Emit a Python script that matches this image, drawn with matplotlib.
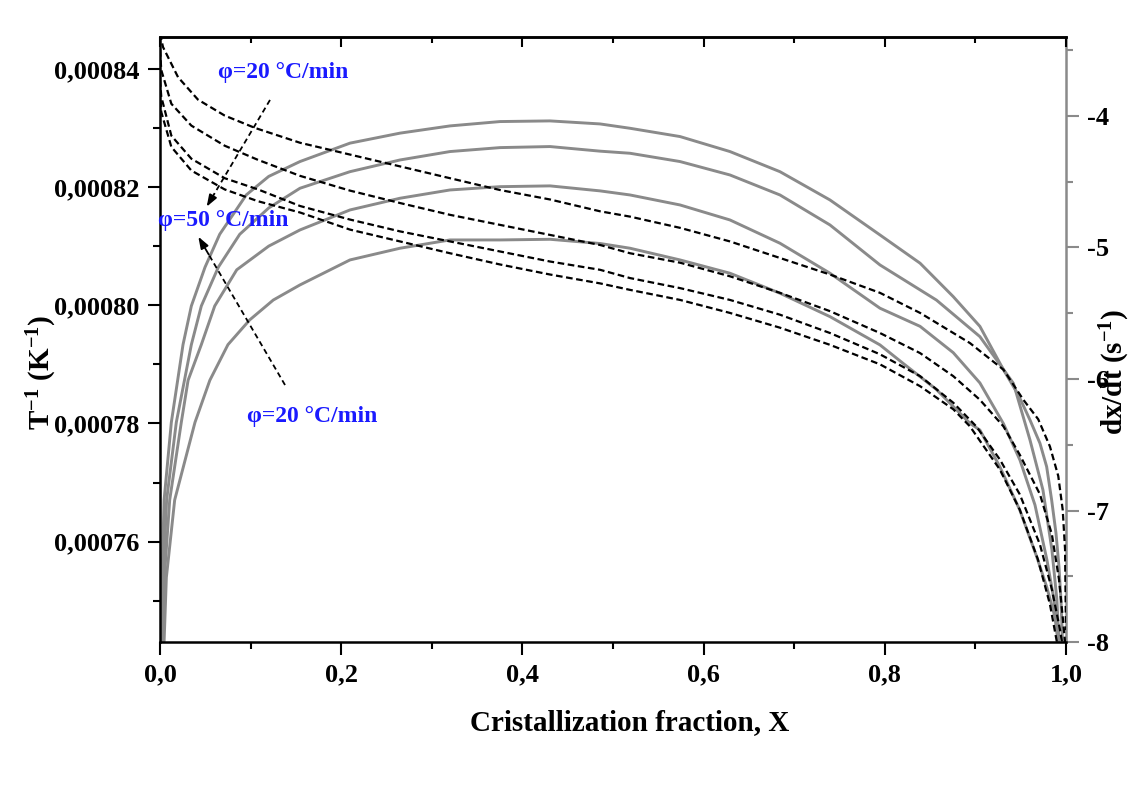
import matplotlib
matplotlib.use('Agg')
from matplotlib import pyplot as plt
from matplotlib.ticker import MultipleLocator, FuncFormatter

plt.rcParams['font.family'] = ['Liberation Serif', 'DejaVu Serif']
plt.rcParams['font.weight'] = 'bold'
plt.rcParams['axes.unicode_minus'] = False
plt.rcParams['mathtext.fontset'] = 'custom'
plt.rcParams['mathtext.rm'] = 'Liberation Serif:bold'
plt.rcParams['mathtext.bf'] = 'Liberation Serif:bold'
plt.rcParams['mathtext.default'] = 'bf'

# dashed curves: 1/T (K^-1) vs X, left axis
d1_x = [0.0, 0.0033, 0.0199, 0.0419, 0.0714, 0.105, 0.1545, 0.2097, 0.2649, 0.3201, 0.3753,
        0.4305, 0.4857, 0.5188, 0.574, 0.6291, 0.6843, 0.7395, 0.7947, 0.839, 0.894, 0.931,
        0.953, 0.9694, 0.9823, 0.9915, 0.9964, 0.999, 1.0]
d1_y = [0.0008460, 0.0008437, 0.0008386, 0.0008348, 0.0008321, 0.0008300, 0.0008275, 0.0008255,
        0.0008235, 0.0008215, 0.0008195, 0.0008179, 0.0008159, 0.0008150, 0.0008131, 0.0008108,
        0.0008080, 0.0008052, 0.0008021, 0.0007987, 0.0007936, 0.0007891, 0.0007840, 0.0007807,
        0.0007761, 0.0007711, 0.0007654, 0.0007587, 0.000745]

d2_x = [0.0, 0.0014, 0.0125, 0.0346, 0.0714, 0.1082, 0.1545, 0.2097, 0.2649, 0.3201, 0.3753,
        0.4305, 0.4857, 0.5188, 0.574, 0.6291, 0.6843, 0.7395, 0.7947, 0.839, 0.8756, 0.905,
        0.931, 0.949, 0.9713, 0.9845, 0.9923, 0.9967, 0.999]
d2_y = [0.0008432, 0.0008398, 0.0008341, 0.0008304, 0.0008270, 0.0008246, 0.0008219, 0.0008194,
        0.0008173, 0.0008153, 0.0008136, 0.0008119, 0.0008102, 0.0008088, 0.0008072, 0.0008049,
        0.0008021, 0.0007990, 0.0007953, 0.0007919, 0.0007880, 0.0007840, 0.0007795, 0.0007747,
        0.0007680, 0.0007612, 0.0007536, 0.0007468, 0.000743]

d3_x = [0.0, 0.0014, 0.0125, 0.0346, 0.0714, 0.1082, 0.1545, 0.2097, 0.2649, 0.3201, 0.3753,
        0.4305, 0.4857, 0.5188, 0.574, 0.6291, 0.6843, 0.7395, 0.7947, 0.839, 0.8756, 0.901,
        0.927, 0.949, 0.9713, 0.9845, 0.9934, 0.9956]
d3_y = [0.0008381, 0.0008353, 0.0008287, 0.0008248, 0.0008215, 0.0008196, 0.0008168, 0.0008145,
        0.0008125, 0.0008108, 0.0008091, 0.0008074, 0.0008060, 0.0008046, 0.0008029, 0.0008009,
        0.0007984, 0.0007953, 0.0007917, 0.0007880, 0.0007835, 0.0007795, 0.0007739, 0.0007680,
        0.0007595, 0.0007519, 0.0007451, 0.000743]

d4_x = [0.0, 0.0014, 0.0125, 0.0346, 0.0714, 0.1082, 0.1545, 0.2097, 0.2649, 0.3201, 0.3753,
        0.4305, 0.4857, 0.5188, 0.574, 0.6291, 0.6843, 0.7395, 0.7947, 0.839, 0.8756, 0.894,
        0.927, 0.949, 0.969, 0.9823, 0.990]
d4_y = [0.0008364, 0.0008327, 0.0008268, 0.0008228, 0.0008196, 0.0008176, 0.0008157, 0.0008128,
        0.0008108, 0.0008088, 0.0008069, 0.0008052, 0.0008037, 0.0008026, 0.0008009, 0.0007987,
        0.0007962, 0.0007933, 0.0007900, 0.0007863, 0.0007824, 0.0007795, 0.0007722, 0.0007654,
        0.0007570, 0.0007494, 0.000743]

# solid grey curves: dx/dt (log) vs X, right axis
g1_x = [0.0012, 0.0022, 0.0045, 0.0125, 0.0254, 0.0346, 0.0497, 0.0659, 0.0953, 0.12, 0.1545,
        0.2097, 0.2649, 0.3201, 0.3753, 0.4305, 0.4857, 0.5188, 0.574, 0.6291, 0.6843, 0.7395,
        0.7947, 0.839, 0.8756, 0.905, 0.931, 0.9474, 0.9603, 0.9713, 0.9787, 0.9842, 0.989,
        0.9923, 0.9945, 0.9962]
g1_y = [-8.0, -7.51, -6.92, -6.33, -5.739, -5.445, -5.15, -4.90, -4.60, -4.46, -4.347,
        -4.207, -4.131, -4.076, -4.043, -4.038, -4.061, -4.094, -4.157, -4.271, -4.424, -4.639,
        -4.905, -5.12, -5.374, -5.60, -5.93, -6.12, -6.312, -6.489, -6.667, -6.92, -7.173,
        -7.427, -7.681, -8.0]

g2_x = [0.002, 0.0035, 0.0073, 0.018, 0.0346, 0.0456, 0.0644, 0.088, 0.12, 0.1545, 0.2097,
        0.2649, 0.3201, 0.3753, 0.4305, 0.4857, 0.5188, 0.574, 0.6291, 0.6843, 0.7395, 0.7947,
        0.857, 0.905, 0.942, 0.9603, 0.9746, 0.9845, 0.990, 0.9923]
g2_y = [-8.0, -7.51, -6.92, -6.33, -5.739, -5.445, -5.15, -4.90, -4.70, -4.55, -4.424,
        -4.335, -4.271, -4.241, -4.233, -4.268, -4.284, -4.347, -4.449, -4.601, -4.829, -5.133,
        -5.40, -5.678, -6.033, -6.464, -6.844, -7.30, -7.68, -8.0]

g3_x = [0.003, 0.0048, 0.0107, 0.0235, 0.031, 0.0456, 0.0604, 0.0847, 0.12, 0.1545, 0.2097,
        0.2649, 0.3201, 0.3753, 0.4305, 0.4857, 0.5188, 0.574, 0.6291, 0.6843, 0.7395, 0.7947,
        0.839, 0.8756, 0.905, 0.931, 0.9492, 0.9658, 0.979, 0.9868, 0.9912]
g3_y = [-8.0, -7.51, -6.92, -6.33, -6.01, -5.739, -5.445, -5.17, -4.99, -4.867, -4.715,
        -4.626, -4.563, -4.538, -4.532, -4.57, -4.601, -4.677, -4.791, -4.968, -5.196, -5.462,
        -5.60, -5.80, -6.03, -6.34, -6.616, -6.958, -7.376, -7.68, -8.0]

g4_x = [0.0045, 0.007, 0.0162, 0.0386, 0.055, 0.075, 0.099, 0.125, 0.1545, 0.2097, 0.2649,
        0.3201, 0.3753, 0.4305, 0.4857, 0.5188, 0.574, 0.6291, 0.6843, 0.7395, 0.7947, 0.820,
        0.857, 0.894, 0.905, 0.927, 0.949, 0.9677, 0.9787, 0.9879, 0.9915]
g4_y = [-8.0, -7.51, -6.92, -6.33, -6.01, -5.739, -5.551, -5.40, -5.285, -5.095, -5.006,
        -4.943, -4.943, -4.938, -4.97, -5.006, -5.095, -5.196, -5.348, -5.526, -5.741, -5.88,
        -6.08, -6.337, -6.388, -6.667, -6.996, -7.351, -7.58, -7.81, -8.0]

x_ticks = [0.0, 0.2, 0.4, 0.6, 0.8, 1.0]
left_ticks = [0.00076, 0.00078, 0.00080, 0.00082, 0.00084]
right_ticks = [-8, -7, -6, -5, -4]

fig = plt.figure(figsize=(11.34, 7.87), dpi=100)
ax = fig.add_axes([0.1411, 0.1842, 0.7989, 0.7688])
ax2 = ax.twinx()

grey = '#8a8a8a'
for gx, gy in [(g1_x, g1_y), (g2_x, g2_y), (g3_x, g3_y), (g4_x, g4_y)]:
    ax2.plot(gx, gy, color=grey, lw=2.1, solid_joinstyle='round')
for dx, dy in [(d1_x, d1_y), (d2_x, d2_y), (d3_x, d3_y), (d4_x, d4_y)]:
    ax.plot(dx, dy, color='black', lw=1.6, ls=(0, (3.0, 1.6)))

ax.set_zorder(ax2.get_zorder() + 1)
ax.patch.set_visible(False)

ax.set_xlim(0, 1.0)
ax.set_ylim(0.000743, 0.0008454)
ax2.set_ylim(-8, -3.4)

comma = lambda fmt: FuncFormatter(lambda v, p: (fmt % v).replace('.', ','))
ax.set_xticks(x_ticks)
ax.xaxis.set_major_formatter(comma('%.1f'))
ax.xaxis.set_minor_locator(MultipleLocator(0.1))
ax.set_yticks(left_ticks)
ax.yaxis.set_major_formatter(comma('%.5f'))
ax.yaxis.set_minor_locator(MultipleLocator(0.00001))
ax2.set_yticks(right_ticks)
ax2.yaxis.set_minor_locator(MultipleLocator(0.5))

ax.tick_params(axis='both', which='major', direction='out', length=9, width=1.5,
               labelsize=19, pad=6)
ax.tick_params(axis='both', which='minor', direction='out', length=5, width=1.5)
ax2.tick_params(axis='y', which='major', direction='out', length=9, width=1.5,
                color=grey, labelsize=19, pad=6)
ax2.tick_params(axis='y', which='minor', direction='out', length=5, width=1.5, color=grey)

# top axis with inward ticks, no labels
top = ax.secondary_xaxis('top')
top.set_xticks(x_ticks)
top.xaxis.set_minor_locator(MultipleLocator(0.1))
top.tick_params(which='major', direction='in', length=7, width=1.5, labeltop=False)
top.tick_params(which='minor', direction='in', length=4, width=1.5)
top.spines['top'].set_linewidth(1.8)

for s in ['left', 'bottom', 'top']:
    ax.spines[s].set_linewidth(1.8)
ax.spines['right'].set_visible(False)
for s in ['left', 'bottom', 'top']:
    ax2.spines[s].set_visible(False)
ax2.spines['right'].set_color(grey)
ax2.spines['right'].set_linewidth(1.8)

ax.set_xlabel('Cristallization fraction, X', fontsize=21, fontweight='bold')
ax.xaxis.set_label_coords(0.518, -0.11)
ax.set_ylabel(r'T$^{-1}$ (K$^{-1}$)', fontsize=21, fontweight='bold')
ax.yaxis.set_label_coords(-0.112, 0.445)
ax2.set_ylabel(r'dx/dt (s$^{-1}$)', fontsize=21, fontweight='bold')
ax2.yaxis.set_label_coords(1.035, 0.446)

blue = '#1a1aff'
labels = [('φ=20 °C/min', 0.064, 0.942), ('φ=50 °C/min', -0.002, 0.696),
          ('φ=20 °C/min', 0.096, 0.372)]
for txt, tx, ty in labels:
    ax.text(tx, ty, txt, transform=ax.transAxes, color=blue, fontsize=17,
            fontweight='bold', ha='left', va='center')

for (x0, y0), (x1, y1) in [((0.1214, 0.8959), (0.0515, 0.7195)),
                            ((0.138, 0.4248), (0.0423, 0.6699))]:
    fx = x1 + (x0 - x1) * 0.12
    fy = y1 + (y0 - y1) * 0.12
    ax.plot([x0, fx], [y0, fy], transform=ax.transAxes, color='black', lw=1.3,
            ls=(0, (3, 2)), clip_on=False)
    ax.annotate('', xy=(x1, y1), xytext=(fx, fy), xycoords='axes fraction',
                textcoords='axes fraction',
                arrowprops=dict(arrowstyle='-|>,head_length=0.7,head_width=0.25',
                                color='black', lw=1.3, shrinkA=0, shrinkB=0))

fig.savefig('out.png', dpi=100, facecolor='white')
